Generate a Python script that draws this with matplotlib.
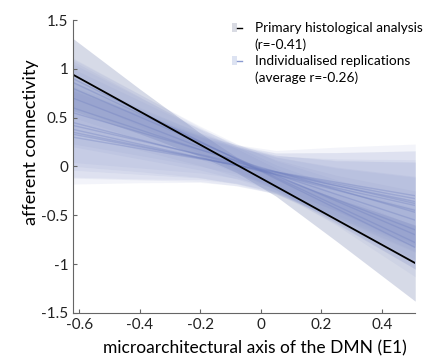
import numpy as np
import matplotlib.pyplot as plt
from matplotlib.patches import Patch
from matplotlib.lines import Line2D
from matplotlib.legend_handler import HandlerTuple

plt.rcParams['font.family'] = ['Lato', 'DejaVu Sans']

# x range of the fitted lines and the nodes where the bands were read
x_ends = np.array([-0.62, 0.51])
x_nodes = np.array([-0.62, -0.4, -0.2, -0.08, 0.05, 0.25, 0.51])

# primary histological analysis
primary_ends = np.array([0.94, -0.99])
primary_hw = np.array([0.37, 0.23, 0.12, 0.08, 0.10, 0.22, 0.39])

# individualised replications (y at left end, y at right end)
rep_left = [0.90, 0.86, 0.80, 0.70, 0.60, 0.55, 0.45, 0.42, 0.38, 0.35, 0.33, 0.30]
rep_right = [-0.83, -0.78, -0.70, -0.65, -0.55, -0.47, -0.45, -0.38, -0.40, -0.36, -0.33, -0.30]
rep_hw = [
    [0.18, 0.15, 0.12, 0.11, 0.11, 0.15, 0.22],
    [0.25, 0.20, 0.15, 0.13, 0.13, 0.20, 0.35],
    [0.30, 0.23, 0.17, 0.15, 0.15, 0.22, 0.35],
    [0.35, 0.27, 0.19, 0.16, 0.17, 0.25, 0.40],
    [0.40, 0.30, 0.21, 0.18, 0.18, 0.28, 0.45],
    [0.32, 0.24, 0.17, 0.14, 0.15, 0.22, 0.36],
    [0.45, 0.33, 0.23, 0.20, 0.20, 0.30, 0.50],
    [0.38, 0.28, 0.19, 0.16, 0.17, 0.26, 0.42],
    [0.42, 0.31, 0.21, 0.18, 0.19, 0.30, 0.47],
    [0.47, 0.35, 0.24, 0.21, 0.21, 0.34, 0.52],
    [0.44, 0.33, 0.22, 0.19, 0.20, 0.32, 0.49],
    [0.48, 0.35, 0.24, 0.21, 0.22, 0.36, 0.53],
]

legend_rows = ['Primary histological analysis', '(r=-0.41)',
               'Individualised replications', '(average r=-0.26)']

fig = plt.figure(figsize=(4.25, 3.58), dpi=100)
ax = fig.add_axes([0.172, 0.126, 0.805, 0.818])

# primary band
p_mid = np.interp(x_nodes, x_ends, primary_ends)
ax.fill_between(x_nodes, p_mid - primary_hw, p_mid + primary_hw,
                color='#d2d6e5', lw=0, alpha=0.9)

# replication bands and lines
for yl, yr, hw in zip(rep_left, rep_right, rep_hw):
    mid = np.interp(x_nodes, x_ends, [yl, yr])
    hw = np.array(hw)
    ax.fill_between(x_nodes, mid - hw, mid + hw, color='#8290c8', lw=0, alpha=0.09)
for yl, yr in zip(rep_left, rep_right):
    ax.plot(x_ends, [yl, yr], color='#7080c0', lw=1, alpha=0.35)

ax.plot(x_ends, primary_ends, color='k', lw=1.3)

ax.set_xlim(-0.62, 0.51)
ax.set_ylim(-1.5, 1.5)
ax.set_xticks([-0.6, -0.4, -0.2, 0, 0.2, 0.4])
ax.set_xticklabels(['-0.6', '-0.4', '-0.2', '0', '0.2', '0.4'])
ax.set_yticks([-1.5, -1, -0.5, 0, 0.5, 1, 1.5])
ax.set_yticklabels(['-1.5', '-1', '-0.5', '0', '0.5', '1', '1.5'])
ax.spines['top'].set_visible(False)
ax.spines['right'].set_visible(False)
for s in ['left', 'bottom']:
    ax.spines[s].set_color('#666666')
    ax.spines[s].set_linewidth(0.8)
ax.tick_params(direction='in', length=3, width=0.8, color='#666666',
               labelsize=11, labelcolor='#222222')
ax.tick_params(axis='x', pad=4)

ax.set_xlabel('microarchitectural axis of the DMN (E1)', fontsize=12.5, labelpad=3)
ax.set_ylabel('afferent connectivity', fontsize=13, labelpad=3)
ax.xaxis.set_label_coords(0.532, -0.095)
ax.yaxis.set_label_coords(-0.10, 0.584)

h1 = (Patch(facecolor='#d9dbe3', edgecolor='none'), Line2D([], [], color='k', lw=1))
h2 = (Patch(facecolor='#dde3f2', edgecolor='none'), Line2D([], [], color='#8a9ad0', lw=1))
blank = Line2D([], [], lw=0)
ax.legend([h1, blank, h2, blank], legend_rows,
          handler_map={tuple: HandlerTuple(ndivide=None, pad=0)},
          loc='upper right', bbox_to_anchor=(1.045, 1.02), frameon=False,
          fontsize=9.8, handlelength=0.8, handleheight=0.6, handletextpad=0.9,
          labelspacing=0.3, borderaxespad=0.2)

fig.savefig('out.png', dpi=100)
